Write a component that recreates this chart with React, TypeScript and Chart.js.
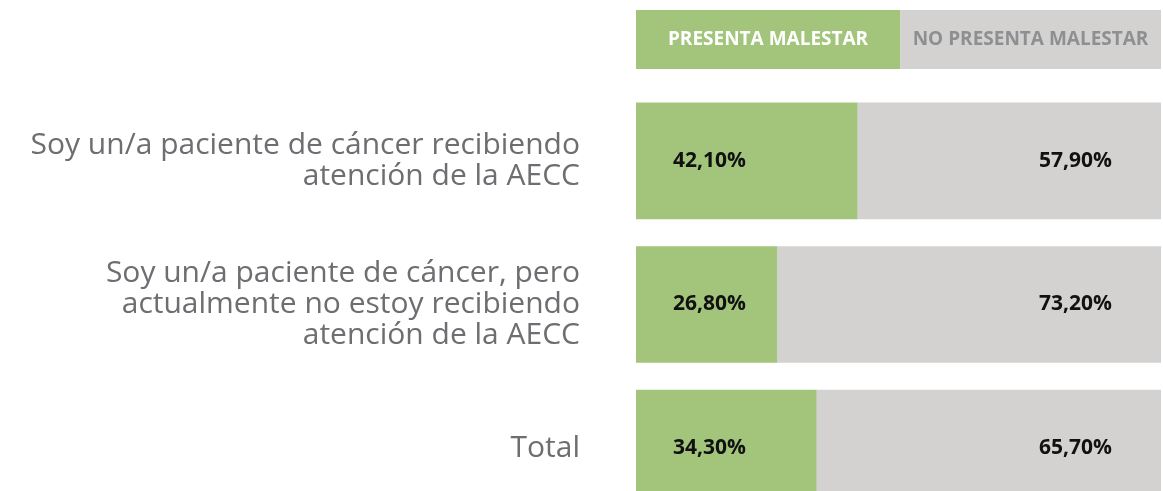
import React, { useEffect, useRef } from "react";
import { Chart, registerables } from "chart.js";

Chart.register(...registerables);

const categories: string[][] = [
  ["Soy un/a paciente de cáncer recibiendo", "atención de la AECC"],
  ["Soy un/a paciente de cáncer, pero", "actualmente no estoy recibiendo", "atención de la AECC"],
  ["Total"],
];
const seriesNames = ["PRESENTA MALESTAR", "NO PRESENTA MALESTAR"];
const presenta = [42.1, 26.8, 34.3];
const noPresenta = [57.9, 73.2, 65.7];
const colors = ["#a3c57b", "#d3d2d1"];
const headerText = ["#ffffff", "#8e8f92"];

const FONT = "'Open Sans', sans-serif";

const fmt = (v: number) => v.toFixed(2).replace(".", ",") + "%";

const headerPlugin = {
  id: "headerBoxes",
  afterDraw(chart: any) {
    const { ctx, chartArea } = chart;
    const left = chartArea.left;
    const right = chartArea.right;
    const split = left + (right - left) * 0.503;
    const top = 10;
    const h = 59;
    const boxes = [
      [left, split],
      [split, right],
    ];
    ctx.save();
    boxes.forEach(([x0, x1], i) => {
      ctx.fillStyle = colors[i];
      ctx.fillRect(x0, top, x1 - x0, h);
      ctx.fillStyle = headerText[i];
      ctx.font = `700 19px ${FONT}`;
      ctx.textAlign = "center";
      ctx.textBaseline = "middle";
      ctx.fillText(seriesNames[i], (x0 + x1) / 2, top + h / 2);
    });
    ctx.restore();
  },
};

const valueLabelPlugin = {
  id: "valueLabels",
  afterDatasetsDraw(chart: any) {
    const { ctx } = chart;
    ctx.save();
    ctx.font = `700 21px ${FONT}`;
    ctx.fillStyle = "#111111";
    ctx.textBaseline = "middle";
    chart.data.datasets.forEach((ds: any, di: number) => {
      const meta = chart.getDatasetMeta(di);
      meta.data.forEach((bar: any, i: number) => {
        const v = ds.data[i];
        if (di === 0) {
          ctx.textAlign = "left";
          ctx.fillText(fmt(v), bar.base + 37, bar.y);
        } else {
          ctx.textAlign = "right";
          ctx.fillText(fmt(v), bar.x - 49, bar.y);
        }
      });
    });
    ctx.restore();
  },
};

export default function App() {
  const ref = useRef<HTMLCanvasElement | null>(null);
  useEffect(() => {
    if (!ref.current) return;
    const chart = new Chart(ref.current, {
      type: "bar",
      data: {
        labels: categories as any,
        datasets: [
          { label: seriesNames[0], data: presenta, backgroundColor: colors[0], barThickness: 116 },
          { label: seriesNames[1], data: noPresenta, backgroundColor: colors[1], barThickness: 116 },
        ],
      },
      options: {
        indexAxis: "y",
        animation: false,
        responsive: true,
        maintainAspectRatio: false,
        layout: { padding: { top: 89, right: 2, left: 0, bottom: 0 } },
        plugins: { legend: { display: false }, tooltip: { enabled: false } },
        scales: {
          x: { stacked: true, min: 0, max: 100, display: false },
          y: {
            stacked: true,
            grid: { display: false, drawTicks: false },
            border: { display: false },
            afterFit: (s: any) => {
              s.width = 636;
              s.paddingTop = 0;
              s.paddingBottom = 0;
            },
            ticks: {
              padding: 56,
              color: "#6d6e71",
              font: { family: FONT, size: 30, lineHeight: 1.02 },
            },
          },
        },
      },
      plugins: [headerPlugin, valueLabelPlugin],
    });
    return () => chart.destroy();
  }, []);
  return (
    <div style={{ position: "fixed", left: 0, top: 0, width: 1163, height: 491, overflow: "hidden", background: "#fff" }}>
      <div style={{ position: "relative", width: 1163, height: 520 }}>
        <canvas ref={ref} />
      </div>
    </div>
  );
}
